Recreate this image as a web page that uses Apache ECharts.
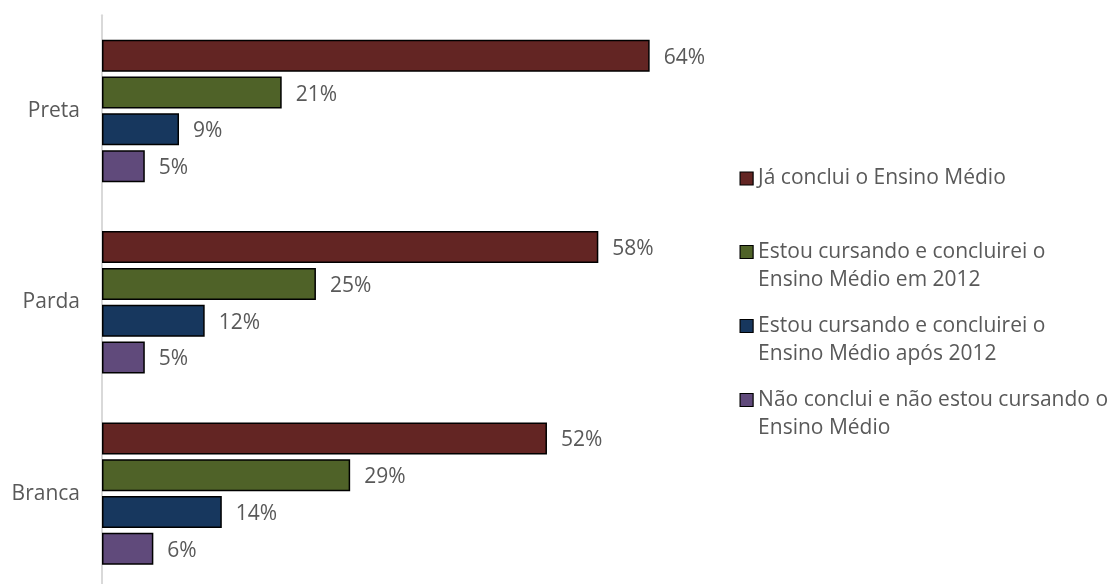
<!DOCTYPE html>
<html>
<head>
<meta charset="utf-8">
<script src="https://cdn.jsdelivr.net/npm/echarts@6/dist/echarts.min.js"></script>
<style>
  html, body { margin: 0; padding: 0; background: #fff; }
  #chart { width: 1112px; height: 584px; }
</style>
</head>
<body>
<div id="chart"></div>
<script>
// Race/colour groups, top to bottom
const categories = ['Preta', 'Parda', 'Branca'];

// Series names and their wrapped legend text
const seriesNames = [
  'Já conclui o Ensino Médio',
  'Estou cursando e concluirei o Ensino Médio em 2012',
  'Estou cursando e concluirei o Ensino Médio após 2012',
  'Não conclui e não estou cursando o Ensino Médio'
];
const legendLines = [
  ['Já conclui o Ensino Médio'],
  ['Estou cursando e concluirei o', 'Ensino Médio em 2012'],
  ['Estou cursando e concluirei o', 'Ensino Médio após 2012'],
  ['Não conclui e não estou cursando o', 'Ensino Médio']
];

// Percent values per category (Preta, Parda, Branca)
const concluiu = [64, 58, 52];
const cursando2012 = [21, 25, 29];
const cursandoApos = [9, 12, 14];
const naoCursando = [5, 5, 6];

const seriesValues = [concluiu, cursando2012, cursandoApos, naoCursando];
const colors = ['#632523', '#4f6228', '#17375e', '#604a7b'];

const FONT = '"Open Sans", sans-serif';
const TEXT = '#595959';
const LINE_H = 28;

const chart = echarts.init(document.getElementById('chart'), null, { renderer: 'canvas' });

// Legend text: wrapped entries get a leading empty line so the marker,
// which is centred on the text block, lines up with the first line.
function legendText(lines) {
  return lines.length > 1 ? '\n' + lines.join('\n') : lines[0];
}

// One legend block per series so each can sit at its own height
const legendTops = [164.5, 210, 284, 358];
const legends = seriesNames.map((name, i) => ({
  orient: 'vertical',
  left: 739.5,
  top: legendTops[i],
  padding: 0,
  itemWidth: 13,
  itemHeight: 13,
  itemGap: 0,
  icon: 'rect',
  selectedMode: false,
  data: [{
    name: name,
    itemStyle: { borderColor: '#000', borderWidth: 1.2 }
  }],
  formatter: () => legendText(legendLines[i]),
  textStyle: {
    fontFamily: FONT,
    fontSize: 21,
    color: TEXT,
    lineHeight: LINE_H
  }
}));

chart.setOption({
  backgroundColor: '#fff',
  animation: false,
  grid: { left: 102, top: 15.3, width: 599, height: 574, outerBoundsMode: 'none', containLabel: false },
  xAxis: {
    type: 'value',
    min: 0,
    max: 70,
    show: false
  },
  yAxis: {
    type: 'category',
    data: categories,
    inverse: true,
    axisLine: { show: true, lineStyle: { color: '#d9d9d9', width: 2 } },
    axisTick: { show: false },
    axisLabel: { fontFamily: FONT, fontSize: 21, color: TEXT, margin: 22, padding: [3, 0, 0, 0] },
    splitLine: { show: false }
  },
  legend: legends,
  series: seriesNames.map((name, i) => ({
    name: name,
    type: 'bar',
    data: seriesValues[i],
    barWidth: 32,
    barGap: '15%',
    itemStyle: { color: colors[i], borderColor: '#000', borderWidth: 1.5 },
    label: {
      show: true,
      position: 'right',
      distance: 14,
      offset: [0, 2],
      formatter: p => p.value + '%',
      fontFamily: FONT,
      fontSize: 21,
      color: TEXT
    }
  }))
});
</script>
</body>
</html>
